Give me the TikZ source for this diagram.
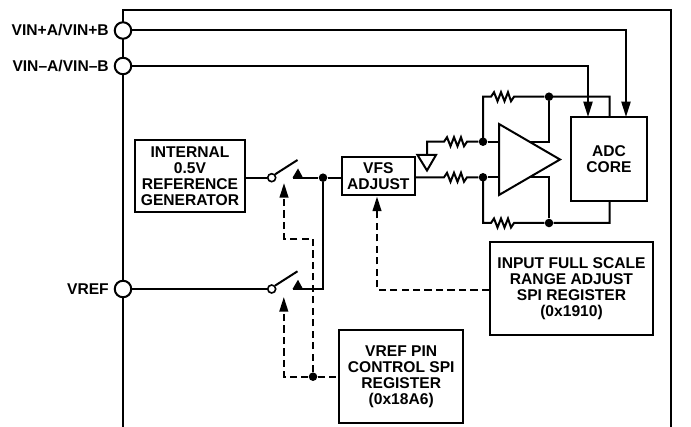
\documentclass[tikz,border=0pt]{standalone}
\usepackage{fontspec}
\setmainfont{Liberation Sans}
\usetikzlibrary{arrows.meta,calc}
\tikzset{
  x=0.75pt,y=-0.75pt,
  wire/.style={line width=1.5pt},
  dash wire/.style={line width=1.5pt,dash pattern=on 5.4pt off 3.2pt},
  arrow wire/.style={wire,-{Triangle[length=11.5pt,width=6.8pt]}},
  dash arrow/.style={dash wire,-{Triangle[length=11pt,width=6.5pt]}},
  blockbox/.style={draw,line width=1.5pt,fill=white,inner sep=0pt,align=center,font=\bfseries\fontsize{11.7pt}{12pt}\selectfont},
  pinlabel/.style={inner sep=0pt,font=\bfseries\fontsize{11.7pt}{12pt}\selectfont,anchor=east},
  pinring/.style={circle,draw,line width=1.5pt,fill=white,inner sep=0pt,minimum size=12.4pt},
  openring/.style={circle,draw,line width=1.2pt,fill=white,inner sep=0pt,minimum size=6pt},
  junction/.style={circle,fill=black,inner sep=0pt,minimum size=6.4pt},
}
\newcommand{\zigres}[2]{% name, start point; 23 px wide resistor
  -- ($(#2)+(3,-4.5)$) -- ($(#2)+(6.5,4.5)$) -- ($(#2)+(10,-4.5)$) -- ($(#2)+(13.5,4.5)$) -- ($(#2)+(17,-4.5)$) -- ($(#2)+(20,4.5)$) -- ($(#2)+(23,0)$)}
\begin{document}
\begin{tikzpicture}
\useasboundingbox (0,0) rectangle (691,427);
% frame
\coordinate (fbl) at (123,427);
\coordinate (ftl) at (123,10);
\coordinate (ftr) at (671,10);
\coordinate (fbr) at (671,427);
\draw[wire] (fbl) -- (ftl) -- (ftr) -- (fbr);
% pins
\node[pinring] (vinp) at (123,30.5) {};
\node[pinring] (vinm) at (123,66) {};
\node[pinring] (vref) at (123,289) {};
\node[pinlabel] (lvinp) at (109,30) {VIN+A/VIN+B};
\node[pinlabel] (lvinm) at (109,66) {VIN–A/VIN–B};
\node[pinlabel] (lvref) at (109,289) {VREF};
% blocks
\node[blockbox,minimum width=82.5pt,minimum height=54pt] (gen) at (190,176) {INTERNAL\\0.5V\\REFERENCE\\GENERATOR};
\node[blockbox,minimum width=55pt,minimum height=28.5pt] (vfs) at (378.3,176.2) {VFS\\ADJUST};
\node[blockbox,minimum width=57pt,minimum height=63pt] (adc) at (609,159) {ADC\\CORE};
\node[blockbox,minimum width=122.3pt,minimum height=69.8pt] (fsr) at (571.5,288.5) {INPUT FULL SCALE\\RANGE ADJUST\\SPI REGISTER\\(0x1910)};
\node[blockbox,minimum width=92.8pt,minimum height=69.8pt] (pinctl) at (401.2,376.5) {VREF PIN\\CONTROL SPI\\REGISTER\\(0x18A6)};
% signal inputs
\coordinate (adcp) at (626,117);
\coordinate (adcm) at (588,117);
\draw[arrow wire] (vinp.east) -- (626,30.5) -- (adcp);
\draw[arrow wire] (vinm.east) -- (588,66) -- (adcm);
% amplifier feedback
\coordinate (tl) at (483,141.7);
\coordinate (bl) at (483,177.3);
\coordinate (ttop) at (483,96.7);
\coordinate (bbot) at (483,223);
\coordinate (tres) at (491,96.7);
\coordinate (bres) at (491,223);
\coordinate (gres) at (444,141.7);
\coordinate (vres) at (444,177.3);
\coordinate (adct) at (609.5,117);
\coordinate (adcb) at (609.5,201);
\node[junction] (jt) at (549,96.7) {};
\node[junction] (jb) at (549,223) {};
\node[junction] (jl1) at (tl) {};
\node[junction] (jl2) at (bl) {};
\coordinate (amp1) at (499,124);
\coordinate (amp2) at (499,195);
\coordinate (amp3) at (560,159.5);
\coordinate (o1) at (530,141.7);
\coordinate (o2) at (530,177.3);
\draw[wire,line join=miter] (tl) -- (ttop) -- (tres) \zigres{}{tres} -- (jt) -- (549,96.7) -| (adct);
\draw[wire] (bl) -- (bbot) -- (bres) \zigres{}{bres} -- (jb) -| (adcb);
\draw[wire] (jt) |- (o1);
\draw[wire] (jb) |- (o2);
\draw[wire] (jl1) -- (499,141.7);
\draw[wire] (jl2) -- (499,177.3);
\draw[wire,fill=white,line join=miter] (amp1) -- (amp2) -- (amp3) -- cycle;
% ground
\coordinate (gtop) at (427,155);
\draw[wire,line join=miter] (417.5,155) -- (436,155) -- (427,170.5) -- cycle;
\draw[wire] (gtop) -- (427,141.7) -- (gres) \zigres{}{gres} -- (jl1);
\draw[wire] (vfs.east |- vres) -- (vres) \zigres{}{vres} -- (jl2);
% switches
\node[openring] (s1) at (271.7,177.7) {};
\node[openring] (s2) at (271.7,289) {};
\node[junction] (js) at (323,177.7) {};
\coordinate (c1) at (292.5,177.7);
\coordinate (c2) at (292.5,289);
\draw[wire] (gen.east |- s1) -- (s1.west);
\draw[wire] (vref.east) -- (s2.west);
\draw[wire] (s1.north east) -- (297.5,160);
\draw[wire] (s2.north east) -- (297.5,271.3);
\fill (c1) -- (303,177.7) -- (298,168.5) -- cycle;
\fill (c2) -- (303,289) -- (298,279.8) -- cycle;
\draw[wire] (c1) -- (js) -- (vfs.west |- js);
\draw[wire] (c2) -- (323,289) -- (js);
% dashed control
\node[junction] (jd) at (313,376.7) {};
\draw[dash arrow] (jd) -- (283.8,376.7) -- (283.8,297);
\draw[dash wire] (jd) -- (pinctl.west |- jd);
\draw[dash arrow] (jd) -- (313,238.7) -- (284,238.7) -- (284,183);
\draw[dash arrow] (fsr.west |- 377,290) -- (377,290) -- (377,196.5);
\end{tikzpicture}
\end{document}
